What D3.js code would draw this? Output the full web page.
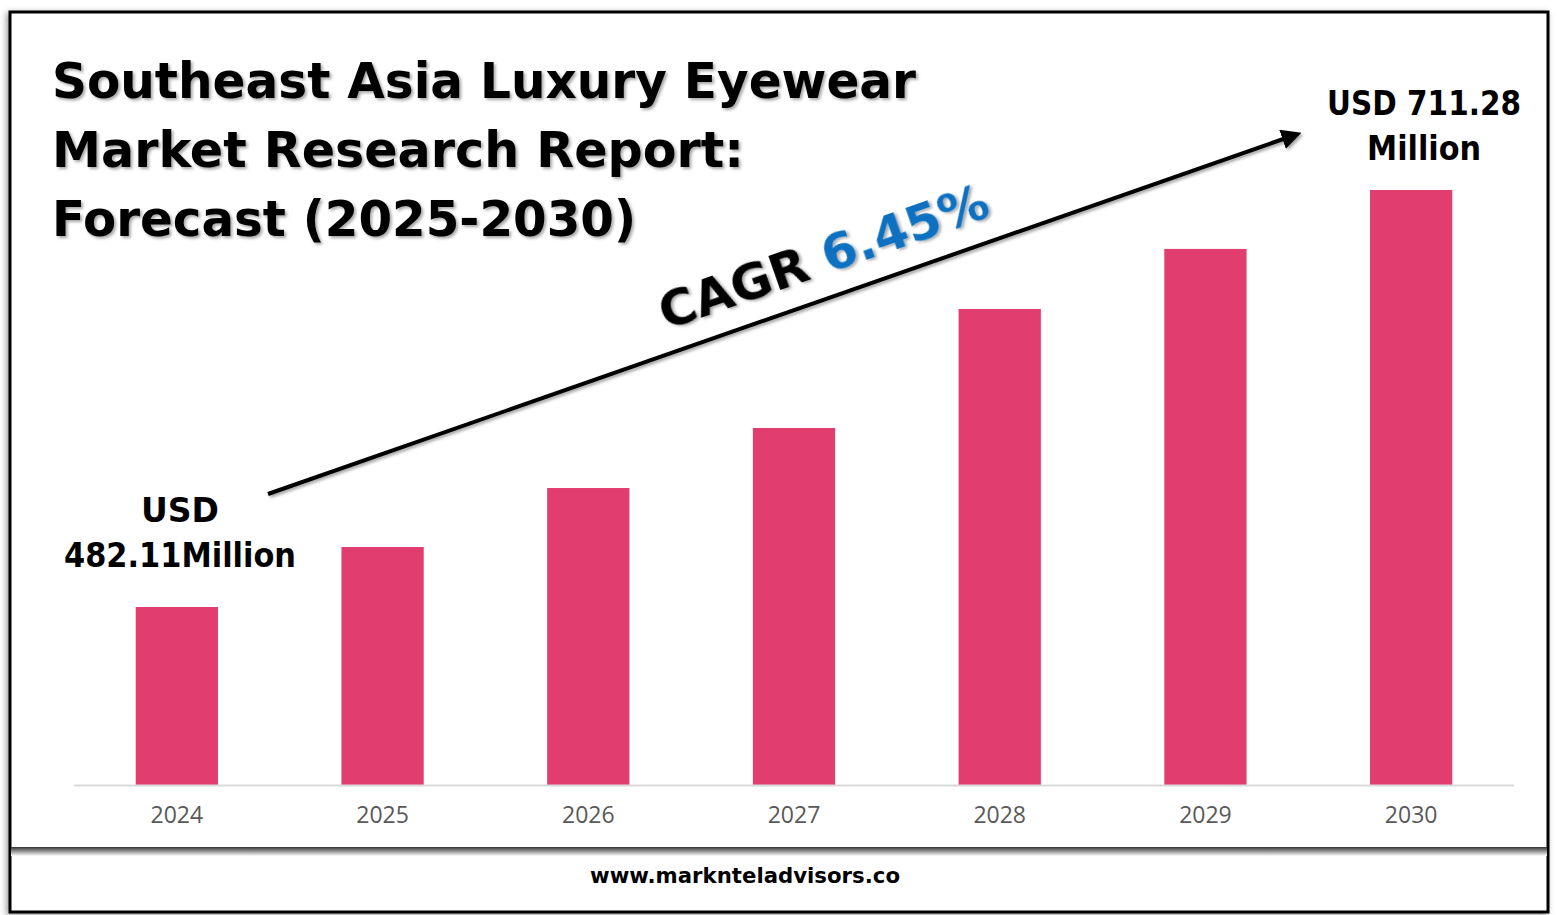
<!DOCTYPE html>
<html><head><meta charset="utf-8">
<script src="https://cdn.jsdelivr.net/npm/d3@7"></script>
<style>body{margin:0;background:#fff}</style></head>
<body><svg id="c" width="1557" height="915"></svg>
<script>
const years = ["2024","2025","2026","2027","2028","2029","2030"];
const values = [482.11, 515.1, 547.5, 580.5, 645.9, 678.9, 711.28];
const titleLines = ["Southeast Asia Luxury Eyewear","Market Research Report:","Forecast (2025-2030)"];

const svg = d3.select("#c");
const defs = svg.append("defs");
const f = defs.append("filter").attr("id","ts").attr("x","-5%").attr("y","-20%").attr("width","110%").attr("height","140%");
f.append("feDropShadow").attr("dx",2).attr("dy",2).attr("stdDeviation",1.5).attr("flood-color","#000").attr("flood-opacity",0.35);
const g = defs.append("linearGradient").attr("id","sh").attr("x1",0).attr("y1",0).attr("x2",0).attr("y2",1);
g.append("stop").attr("offset",0).attr("stop-color","#333");
g.append("stop").attr("offset",1).attr("stop-color","#fff");
const bs = defs.append("filter").attr("id","bs").attr("x","-5%").attr("y","-5%").attr("width","110%").attr("height","110%");
bs.append("feDropShadow").attr("dx",-2).attr("dy",2).attr("stdDeviation",3).attr("flood-color","#000").attr("flood-opacity",0.4);

svg.append("rect").attr("x",10).attr("y",12).attr("width",1538).attr("height",900).attr("fill","#fff").attr("stroke","#000").attr("stroke-width",3).attr("filter","url(#bs)");
svg.append("rect").attr("x",11).attr("y",847).attr("width",1536).attr("height",9).attr("fill","url(#sh)");

const x = d3.scaleBand().domain(years).range([74,1514]).paddingInner(0.6).paddingOuter(0.3);
const y = d3.scaleLinear().domain([384.3, 711.28]).range([785,190]);

svg.selectAll("rect.bar").data(values).join("rect").attr("class","bar")
  .attr("x",(d,i)=>x(years[i])).attr("width",x.bandwidth())
  .attr("y",d=>y(d)).attr("height",d=>785-y(d)).attr("fill","#e23d6f");

svg.append("line").attr("x1",74).attr("x2",1514).attr("y1",785.5).attr("y2",785.5).attr("stroke","#d9d9d9").attr("stroke-width",2);
const ax = svg.append("g").attr("transform","translate(0,786)").call(d3.axisBottom(x).tickSize(0).tickPadding(21));
ax.select(".domain").remove();
ax.selectAll("text").attr("font-family","'Open Sans',sans-serif").attr("font-size",23).attr("fill","#595959");

svg.append("g").attr("filter","url(#ts)").selectAll("text").data(titleLines).join("text")
  .attr("x",52).attr("y",(d,i)=>98+i*69).text(d=>d)
  .attr("font-family","'DejaVu Sans',sans-serif").attr("font-weight","bold").attr("font-size",50).attr("fill","#000")
  .attr("textLength",(d,i)=>[864,692,584][i]).attr("lengthAdjust","spacingAndGlyphs");

defs.append("marker").attr("id","ah").attr("viewBox","0 0 10 10").attr("refX",5).attr("refY",5)
  .attr("markerWidth",5).attr("markerHeight",5).attr("orient","auto")
  .append("path").attr("d","M0,0L10,5L0,10z").attr("fill","#000");
svg.append("line").attr("x1",268).attr("y1",494).attr("x2",1292).attr("y2",136)
  .attr("stroke","#000").attr("stroke-width",4).attr("marker-end","url(#ah)").attr("filter","url(#ts)");

const ct = svg.append("text").attr("transform","translate(666,330) rotate(-19.3)")
  .attr("font-family","'DejaVu Sans',sans-serif").attr("font-weight","bold").attr("font-size",50).attr("filter","url(#ts)");
ct.append("tspan").text("CAGR ").attr("fill","#000");
ct.append("tspan").text("6.45%").attr("fill","#0b70c0");

const lab = (t,xx,yy)=>svg.append("text").attr("x",xx).attr("y",yy).attr("text-anchor","middle").text(t)
  .attr("font-family","'DejaVu Sans',sans-serif").attr("font-weight","bold").attr("font-size",33).attr("fill","#000");
lab("USD",180,522); lab("482.11Million",180,567).attr("textLength",232).attr("lengthAdjust","spacingAndGlyphs");
lab("USD 711.28",1424,115).attr("textLength",194).attr("lengthAdjust","spacingAndGlyphs"); lab("Million",1424,160).attr("textLength",114).attr("lengthAdjust","spacingAndGlyphs");

svg.append("text").attr("x",745).attr("y",883).attr("text-anchor","middle").text("www.marknteladvisors.co")
  .attr("font-family","'DejaVu Sans',sans-serif").attr("font-weight","bold").attr("font-size",22).attr("fill","#000")
  .attr("textLength",310).attr("lengthAdjust","spacingAndGlyphs");
</script></body></html>
